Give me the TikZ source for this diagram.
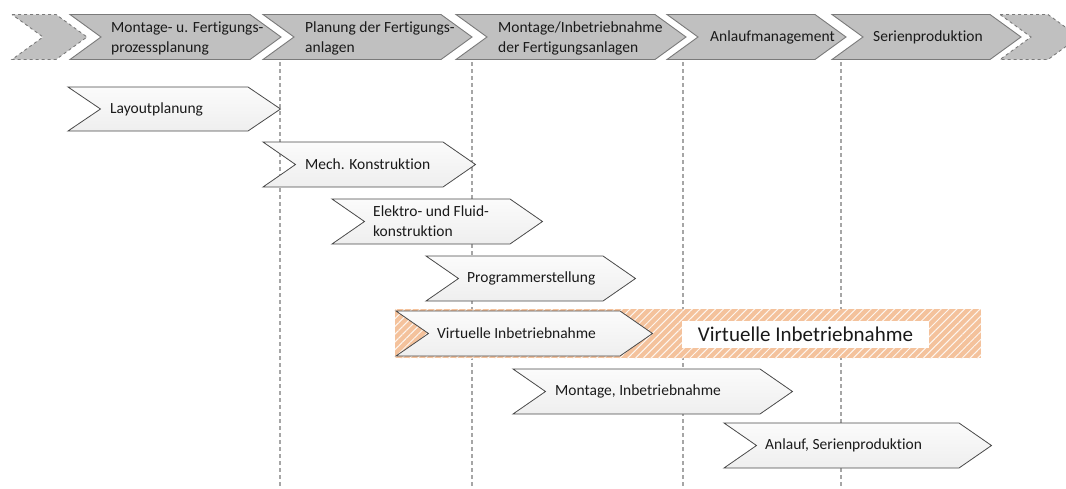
\documentclass[tikz,border=0pt]{standalone}
\usepackage{fontspec}
\setmainfont{Carlito}[Ligatures=NoCommon]
\usetikzlibrary{patterns.meta}

\definecolor{phasefill}{HTML}{C0C0C0}
\definecolor{phaseline}{HTML}{7A7A7A}
\definecolor{taskline}{HTML}{4A4A4A}
\definecolor{gridline}{HTML}{A6A6A6}
\definecolor{vibfill}{HTML}{F4C29C}
\definecolor{txt}{HTML}{1A1A1A}

% chevron outline: #1 style, #2 left, #3 right, #4 top, #5 bottom, depth in \chevdepth
\newcommand\chevpath[5]{%
  \path[#1] (#2,#4) -- (#3,#4) -- ({#3+\chevdepth},{(#4+#5)/2}) -- (#3,#5)
    -- (#2,#5) -- ({#2+\chevdepth},{(#4+#5)/2}) -- cycle;}

\begin{document}
\begin{tikzpicture}[x=1pt,y=-1pt,
  phase/.style={fill=phasefill,draw=phaseline,line width=0.9pt},
  phasedash/.style={phase,dashed},
  task/.style={top color=gray!3,bottom color=gray!13,draw=taskline,line width=0.8pt},
  lbl/.style={anchor=west,inner sep=0pt,align=left,text=txt,
    font=\fontsize{15.5}{20}\selectfont},
  grid/.style={draw=gridline,line width=2pt,dash pattern=on 4pt off 3pt}]

\clip (0,0) rectangle (1066,488);
\fill[white] (0,0) rectangle (1066,488);

% milestone lines behind everything
\foreach \gx/\gn in {280/g1,472/g2,683/g3,841/g4}{
  \coordinate (\gn a) at (\gx,62);
  \coordinate (\gn b) at (\gx,488);
  \draw[grid] (\gn a) -- (\gn b);
}

% phase bar
\def\chevdepth{31}
\chevpath{phasedash}{12}{56}{14.5}{59.5}
\chevpath{phase}{70}{250}{14.5}{59.5}
\chevpath{phase}{263}{441}{14.5}{59.5}
\chevpath{phase}{456}{655}{14.5}{59.5}
\chevpath{phase}{667}{815}{14.5}{59.5}
\chevpath{phase}{832}{990}{14.5}{59.5}
\chevpath{phasedash}{1000}{1048}{14.5}{59.5}

\node[lbl] (p1) at (111,38) {Montage- u. Fertigungs-\\prozessplanung};
\node[lbl] (p2) at (305,38) {Planung der Fertigungs-\\anlagen};
\node[lbl] (p3) at (498,38) {Montage/Inbetriebnahme\\der Fertigungsanlagen};
\node[lbl] (p4) at (710,37) {Anlaufmanagement};
\node[lbl] (p5) at (873,37) {Serienproduktion};

% virtual commissioning band
\fill[vibfill] (395,309) rectangle (981,358);
\fill[pattern={Lines[angle=45,distance=5.5pt,line width=1pt]},
      pattern color=white!85!vibfill] (395,309) rectangle (981,358);
\node[fill=white,minimum width=247pt,minimum height=27pt,inner sep=0pt,
      text=txt,font=\fontsize{21}{24}\selectfont] (vib) at (805.5,334.5)
      {Virtuelle Inbetriebnahme};

% activities
\def\chevdepth{32.5}
\chevpath{task}{68}{248}{87}{131}
\chevpath{task}{263}{443}{142}{187}
\chevpath{task}{332}{510}{199}{244}
\chevpath{task}{426}{603}{256}{301}
\chevpath{task}{396}{620}{311}{356}
\chevpath{task}{513}{760}{369}{414}
\chevpath{task}{724}{959}{423}{468}

\node[lbl] (t1) at (110,109) {Layoutplanung};
\node[lbl] (t2) at (305,164.5) {Mech. Konstruktion};
\node[lbl] (t3) at (373,221.5) {Elektro- und Fluid-\\konstruktion};
\node[lbl] (t4) at (467,278.5) {Programmerstellung};
\node[lbl] (t5) at (437,333.5) {Virtuelle Inbetriebnahme};
\node[lbl] (t6) at (555,391.5) {Montage, Inbetriebnahme};
\node[lbl] (t7) at (765,445.5) {Anlauf, Serienproduktion};
\end{tikzpicture}
\end{document}
